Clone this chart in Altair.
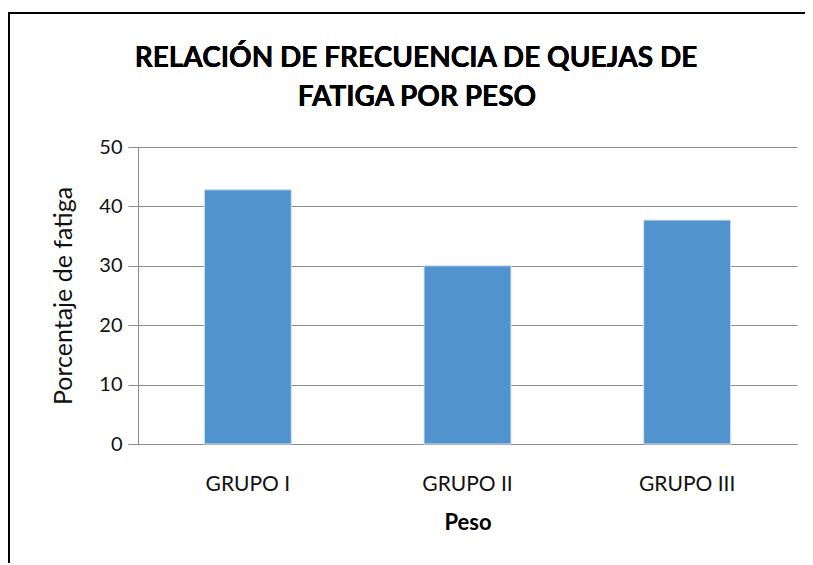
import altair as alt
import pandas as pd

categories = ["GRUPO I", "GRUPO II", "GRUPO III"]
values = [42.8, 30.0, 37.7]
y_ticks = [0, 10, 20, 30, 40, 50]
title_lines = ["RELACIÓN DE FRECUENCIA  DE QUEJAS DE", "FATIGA POR PESO"]

df = pd.DataFrame({"grupo": categories, "pct": values})

W, H = 659, 297
PL, PT, PR, PB = 130, 139, 8, 119
FONT = "Lato"
TXT = "#111111"

bars = alt.Chart(df).mark_bar(color="#5093CE", stroke="#D6E4F2", strokeWidth=1).encode(
    x=alt.X("grupo:N", sort=categories,
            scale=alt.Scale(paddingInner=0.604, paddingOuter=0.302),
            axis=alt.Axis(title="Peso", labelAngle=0, ticks=False, domain=True,
                          domainColor="#8C8C8C", labelFont=FONT, labelFontSize=21,
                          labelColor=TXT, labelPadding=29, titleFont=FONT,
                          titleFontSize=22, titleFontWeight="bold", titleColor="#000",
                          titlePadding=18)),
    y=alt.Y("pct:Q", scale=alt.Scale(domain=[0, 50], nice=False),
            axis=alt.Axis(title="Porcentaje de fatiga", values=y_ticks, grid=True,
                          gridColor="#8C8C8C", domainColor="#8C8C8C", tickColor="#8C8C8C",
                          tickSize=10, labelFont=FONT, labelFontSize=20, labelColor=TXT,
                          labelPadding=6, titleFont=FONT, titleFontSize=25,
                          titleFontWeight="normal", titleColor=TXT, titlePadding=22)),
)

frame_left = alt.Chart(df).mark_rule(color="#000", strokeWidth=2).encode(
    x=alt.value(-129), y=alt.value(-PT + 4), y2=alt.value(H + PB)
)
frame_top = alt.Chart(df).mark_rule(color="#000", strokeWidth=2).encode(
    x=alt.value(-130), x2=alt.value(W + PR), y=alt.value(-PT + 5)
)

title1 = alt.Chart(df).mark_text(text=title_lines[0], font=FONT, fontSize=28,
                                 fontWeight="bold", color="#000", align="center",
                                 baseline="alphabetic").encode(
    x=alt.value(278), y=alt.value(-80))
title2 = alt.Chart(df).mark_text(text=title_lines[1], font=FONT, fontSize=28,
                                 fontWeight="bold", color="#000", align="center",
                                 baseline="alphabetic").encode(
    x=alt.value(279), y=alt.value(-41))

chart = alt.layer(frame_left, frame_top, bars, title1, title2).properties(
    width=W, height=H,
    padding={"left": PL, "top": PT, "right": PR, "bottom": PB},
    autosize=alt.AutoSizeParams(type="none"),
).configure_view(stroke=None)

chart.save("out.html", embed_options={"renderer": "svg", "actions": False})
